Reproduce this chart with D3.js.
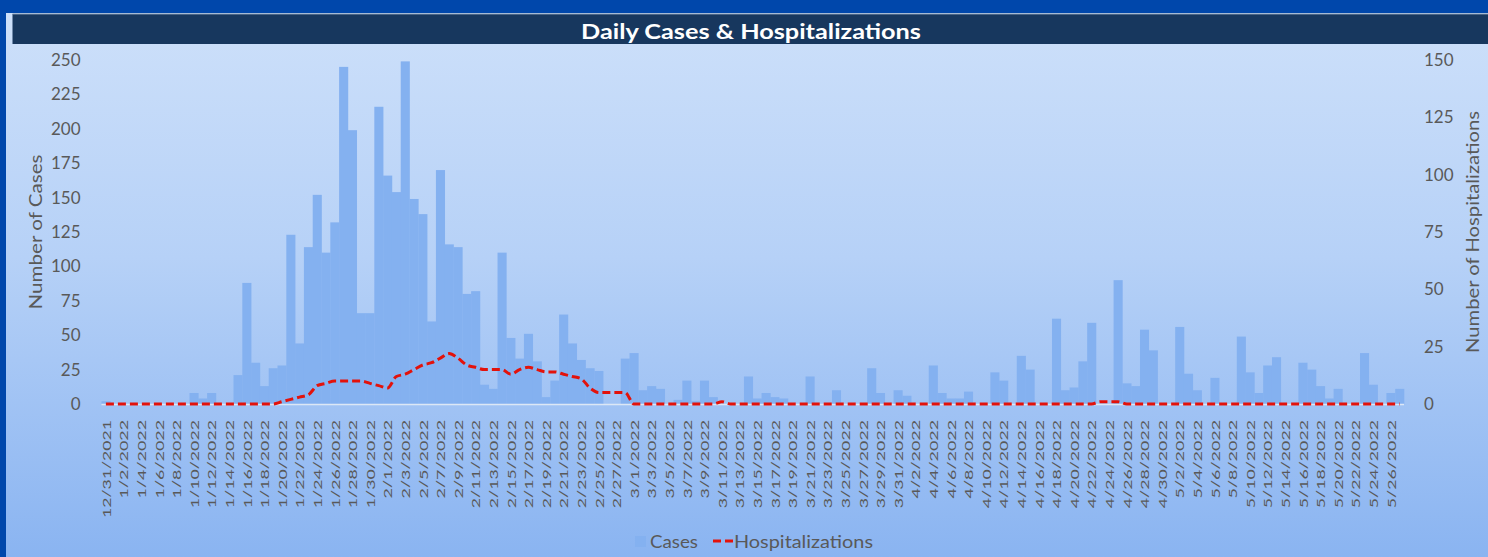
<!DOCTYPE html>
<html>
<head>
<meta charset="utf-8">
<script src="https://cdn.jsdelivr.net/npm/d3@7"></script>
<style>
  html, body { margin: 0; padding: 0; background: #0047AB; }
  svg { display: block; }
  text { font-family: Lato, "Open Sans", sans-serif; }
</style>
</head>
<body>
<svg id="chart" width="1488" height="557"></svg>
<script>
// Daily reporting window: 12/31/2021 through 5/27/2022
const startDay = new Date(2021, 11, 31);
const endDay = new Date(2022, 4, 28);
const dates = d3.timeDay.range(startDay, endDay);
const fmt = d3.timeFormat("%-m/%-d/%Y");
const categories = dates.map(fmt);

// Daily new cases (left axis)
const cases = [
  2, 0, 0, 0, 0, 0, 0, 0, 0, 0,
  8, 4, 8, 0, 0, 21, 88, 30, 13, 26,
  28, 123, 44, 114, 152, 110, 132, 245, 199, 66,
  66, 216, 166, 154, 249, 149, 138, 60, 170, 116,
  114, 80, 82, 14, 11, 110, 48, 33, 51, 31,
  5, 17, 65, 44, 32, 26, 24, 0, 0, 33,
  37, 10, 13, 11, 0, 3, 17, 2, 17, 5,
  0, 0, 0, 20, 4, 8, 5, 4, 0, 0,
  20, 0, 0, 10, 0, 0, 0, 26, 8, 0,
  10, 6, 0, 0, 28, 8, 4, 4, 9, 0,
  0, 23, 17, 0, 35, 25, 0, 0, 62, 10,
  12, 31, 59, 0, 0, 90, 15, 13, 54, 39,
  0, 0, 56, 22, 10, 0, 19, 0, 0, 49,
  23, 8, 28, 34, 0, 0, 30, 25, 13, 4,
  11, 0, 0, 37, 14, 0, 8, 11
];

// Hospitalizations (right axis)
const hospitalizations = [
  0, 0, 0, 0, 0, 0, 0, 0, 0, 0,
  0, 0, 0, 0, 0, 0, 0, 0, 0, 0,
  1, 2, 3, 4, 8, 9, 10, 10, 10, 10,
  9, 8, 7, 12, 13, 15, 17, 18, 20, 22,
  20, 17, 16, 15, 15, 15, 13, 15, 16, 15,
  14, 14, 13, 12, 11, 7, 5, 5, 5, 5,
  0, 0, 0, 0, 0, 0, 0, 0, 0, 0,
  1, 0, 0, 0, 0, 0, 0, 0, 0, 0,
  0, 0, 0, 0, 0, 0, 0, 0, 0, 0,
  0, 0, 0, 0, 0, 0, 0, 0, 0, 0,
  0, 0, 0, 0, 0, 0, 0, 0, 0, 0,
  0, 0, 0, 1, 1, 1, 0, 0, 0, 0,
  0, 0, 0, 0, 0, 0, 0, 0, 0, 0,
  0, 0, 0, 0, 0, 0, 0, 0, 0, 0,
  0, 0, 0, 0, 0, 0, 0, 0
];

const leftTicks = [0, 25, 50, 75, 100, 125, 150, 175, 200, 225, 250];
const rightTicks = [0, 25, 50, 75, 100, 125, 150];

const W = 1488, H = 557;
const plot = { left: 101.5, right: 1404, top: 60, bottom: 404 };
const textGray = "#595959";

const svg = d3.select("#chart");
const defs = svg.append("defs");
const grad = defs.append("linearGradient")
  .attr("id", "bg").attr("x1", 0).attr("y1", 0).attr("x2", 0).attr("y2", 1);
grad.append("stop").attr("offset", "0%").attr("stop-color", "#CDE0FA");
grad.append("stop").attr("offset", "45%").attr("stop-color", "#B6D1F7");
grad.append("stop").attr("offset", "100%").attr("stop-color", "#8AB4F1");

// Chart frame
svg.append("rect").attr("x", 6).attr("y", 13).attr("width", W - 6).attr("height", H - 13)
  .attr("fill", "url(#bg)");

// Title bar
svg.append("rect").attr("x", 12.5).attr("y", 14).attr("width", W - 12.5).attr("height", 30)
  .attr("fill", "#17375E");
svg.append("line").attr("x1", 12.5).attr("x2", W).attr("y1", 14).attr("y2", 14)
  .attr("stroke", "#7F93AD").attr("stroke-width", 1.2);
svg.append("text").attr("x", 751).attr("y", 30)
  .attr("text-anchor", "middle").attr("dominant-baseline", "central")
  .attr("fill", "#FFFFFF").attr("font-weight", "bold").attr("font-size", 21)
  .attr("textLength", 340).attr("lengthAdjust", "spacingAndGlyphs")
  .text("Daily Cases & Hospitalizations");

// Scales
const x = d3.scaleBand().domain(categories).range([plot.left, plot.right]).padding(0);
const yL = d3.scaleLinear().domain([0, 250]).range([plot.bottom, plot.top]);
const yR = d3.scaleLinear().domain([0, 150]).range([plot.bottom, plot.top]);

// Bars
svg.append("g").selectAll("rect").data(categories).join("rect")
  .attr("x", d => x(d))
  .attr("width", x.bandwidth() + 0.3)
  .attr("y", (d, i) => yL(cases[i]))
  .attr("height", (d, i) => yL(0) - yL(cases[i]))
  .attr("fill", "#84B1F0");

// Baseline
svg.append("line").attr("x1", plot.left).attr("x2", plot.right)
  .attr("y1", plot.bottom + 0.5).attr("y2", plot.bottom + 0.5)
  .attr("stroke", "#DCE7F5").attr("stroke-width", 1.5);

// Hospitalizations line
const line = d3.line()
  .x((d, i) => x(categories[i]) + x.bandwidth() / 2)
  .y(d => yR(d))
  .curve(d3.curveMonotoneX);
svg.append("path").datum(hospitalizations)
  .attr("d", line)
  .attr("fill", "none")
  .attr("stroke", "#E3120B")
  .attr("stroke-width", 3)
  .attr("stroke-dasharray", "8,4");

// Left axis
const axL = svg.append("g").attr("transform", `translate(${plot.left},0)`)
  .call(d3.axisLeft(yL).tickValues(leftTicks).tickSize(0).tickPadding(21));
axL.select(".domain").remove();
axL.selectAll("text").attr("fill", textGray).attr("font-size", 17)
  .attr("font-family", "Lato, 'Open Sans', sans-serif");

// Right axis
const axR = svg.append("g").attr("transform", `translate(${plot.right},0)`)
  .call(d3.axisRight(yR).tickValues(rightTicks).tickSize(0).tickPadding(20));
axR.select(".domain").remove();
axR.selectAll("text").attr("fill", textGray).attr("font-size", 17)
  .attr("font-family", "Lato, 'Open Sans', sans-serif");

// Category labels every other day, rotated
const labelCats = categories.filter((d, i) => i % 2 === 0);
svg.append("g").selectAll("text").data(labelCats).join("text")
  .attr("transform", d => `translate(${x(d) + x.bandwidth() / 2 + 0.5},420) rotate(-90)`)
  .attr("text-anchor", "end")
  .attr("dy", "0.36em")
  .attr("fill", textGray)
  .attr("font-size", 12)
  .attr("textLength", d => d.length * 9.8)
  .attr("lengthAdjust", "spacingAndGlyphs")
  .text(d => d);

// Axis titles
svg.append("text")
  .attr("transform", "translate(35,232) rotate(-90)")
  .attr("text-anchor", "middle").attr("dominant-baseline", "central")
  .attr("fill", textGray).attr("font-size", 17)
  .attr("textLength", 155).attr("lengthAdjust", "spacingAndGlyphs")
  .text("Number of Cases");
svg.append("text")
  .attr("transform", "translate(1472,232) rotate(-90)")
  .attr("text-anchor", "middle").attr("dominant-baseline", "central")
  .attr("fill", textGray).attr("font-size", 17)
  .attr("textLength", 242).attr("lengthAdjust", "spacingAndGlyphs")
  .text("Number of Hospitalizations");

// Legend
const lg = svg.append("g");
lg.append("rect").attr("x", 635).attr("y", 536).attr("width", 11).attr("height", 11)
  .attr("fill", "#84B1F0");
lg.append("text").attr("x", 650).attr("y", 541).attr("dominant-baseline", "central")
  .attr("fill", textGray).attr("font-size", 17)
  .attr("textLength", 48).attr("lengthAdjust", "spacingAndGlyphs")
  .text("Cases");
lg.append("line").attr("x1", 713).attr("x2", 733).attr("y1", 541).attr("y2", 541)
  .attr("stroke", "#E3120B").attr("stroke-width", 3).attr("stroke-dasharray", "8,4");
lg.append("text").attr("x", 734).attr("y", 541).attr("dominant-baseline", "central")
  .attr("fill", textGray).attr("font-size", 17)
  .attr("textLength", 139).attr("lengthAdjust", "spacingAndGlyphs")
  .text("Hospitalizations");
</script>
</body>
</html>
